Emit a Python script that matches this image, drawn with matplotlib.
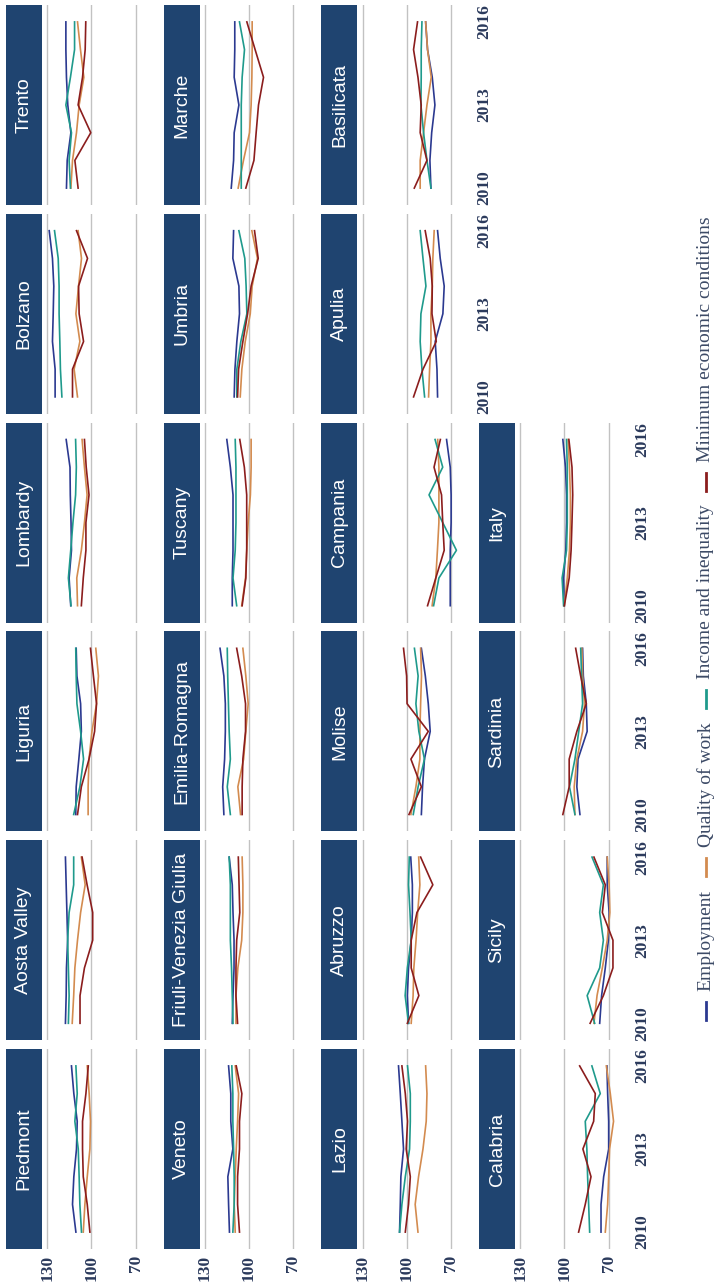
import matplotlib
matplotlib.use("Agg")
import matplotlib.pyplot as plt
from matplotlib.lines import Line2D

# regional well-being indices, 2010-2016
years = [2010, 2011, 2012, 2013, 2014, 2015, 2016]

regions = [
    "Piedmont", "Aosta Valley", "Liguria", "Lombardy", "Bolzano", "Trento",
    "Veneto", "Friuli-Venezia Giulia", "Emilia-Romagna", "Tuscany", "Umbria", "Marche",
    "Lazio", "Abruzzo", "Molise", "Campania", "Apulia", "Basilicata",
    "Calabria", "Sicily", "Sardinia", "Italy",
]

employment = [
    [110.5, 112.8, 111.9, 110.1, 109.6, 111.9, 113.5],
    [117.6, 117.1, 116.9, 116.1, 116.6, 117.1, 117.6],
    [110.6, 110.3, 108.5, 106.8, 107.3, 109.8, 110.3],
    [114.0, 115.1, 113.5, 113.8, 114.3, 114.5, 117.1],
    [124.6, 124.6, 126.4, 125.9, 125.5, 126.4, 128.6],
    [116.9, 116.4, 113.9, 116.0, 116.9, 117.3, 117.3],
    [113.3, 113.9, 114.4, 111.0, 112.4, 112.4, 113.9],
    [111.4, 110.9, 110.2, 110.2, 110.9, 111.4, 113.5],
    [117.1, 117.9, 116.6, 116.1, 116.1, 117.1, 119.7],
    [111.4, 111.4, 110.9, 110.9, 110.9, 112.7, 115.1],
    [110.1, 109.6, 108.3, 106.5, 106.9, 111.0, 110.5],
    [112.1, 110.5, 110.1, 106.9, 110.1, 109.7, 109.7],
    [104.9, 104.4, 104.0, 102.2, 103.3, 104.4, 105.6],
    [98.8, 99.6, 98.8, 97.0, 96.2, 96.2, 97.3],
    [90.1, 89.3, 88.0, 84.1, 85.4, 87.4, 90.1],
    [70.5, 70.5, 70.5, 69.9, 69.9, 70.5, 73.0],
    [79.1, 79.5, 80.7, 75.5, 74.6, 77.3, 79.1],
    [83.6, 84.3, 83.1, 80.9, 82.7, 85.9, 87.2],
    [75.2, 75.2, 73.4, 70.0, 70.0, 70.7, 71.2],
    [76.1, 74.8, 72.3, 70.2, 69.7, 71.0, 71.0],
    [89.5, 91.6, 90.8, 84.6, 85.2, 87.2, 87.7],
    [100.1, 100.6, 99.1, 98.6, 98.6, 99.3, 101.1],
]

quality_of_work = [
    [105.5, 104.4, 102.8, 101.0, 100.6, 101.5, 102.8],
    [113.0, 112.0, 111.2, 109.4, 107.3, 104.2, 106.8],
    [102.2, 102.2, 101.6, 99.6, 96.5, 95.2, 97.0],
    [109.4, 109.9, 106.8, 104.7, 102.9, 104.7, 106.3],
    [109.4, 111.7, 107.8, 110.5, 108.7, 106.7, 109.0],
    [113.9, 112.8, 110.1, 108.3, 105.1, 107.4, 109.4],
    [109.4, 110.1, 109.4, 108.7, 107.8, 107.1, 109.4],
    [108.9, 108.9, 107.6, 105.0, 104.2, 104.2, 104.7],
    [105.8, 107.6, 103.7, 102.2, 100.6, 102.2, 104.2],
    [105.0, 102.4, 101.6, 100.6, 99.1, 98.6, 98.6],
    [106.0, 104.9, 102.6, 99.2, 97.9, 94.3, 98.1],
    [107.4, 103.8, 99.7, 98.6, 98.1, 97.9, 97.9],
    [92.4, 94.3, 92.0, 89.0, 86.8, 86.3, 87.2],
    [97.0, 95.7, 95.2, 93.7, 92.6, 91.1, 91.9],
    [97.2, 93.8, 91.1, 91.1, 90.6, 90.0, 90.6],
    [82.8, 80.3, 79.2, 78.2, 78.2, 78.2, 79.0],
    [85.2, 84.5, 83.6, 83.6, 82.7, 82.3, 81.4],
    [90.9, 90.9, 88.6, 86.3, 83.4, 85.9, 87.2],
    [72.3, 70.7, 70.0, 69.4, 66.7, 68.9, 71.6],
    [80.0, 77.9, 74.3, 71.0, 69.2, 69.7, 71.0],
    [92.9, 93.4, 91.6, 87.7, 86.4, 87.7, 88.2],
    [100.1, 98.1, 96.6, 96.0, 96.0, 96.6, 97.5],
]

income_inequality = [
    [106.7, 107.8, 108.3, 108.9, 111.2, 109.6, 110.5],
    [115.6, 115.1, 115.6, 116.1, 115.1, 112.0, 112.0],
    [112.0, 107.8, 105.3, 107.3, 109.8, 110.3, 110.6],
    [113.8, 115.6, 114.0, 112.5, 110.7, 110.2, 110.7],
    [120.0, 121.0, 121.4, 121.9, 121.9, 122.5, 125.0],
    [114.2, 115.1, 113.5, 117.3, 114.2, 111.4, 111.4],
    [111.0, 110.1, 110.1, 110.5, 111.0, 111.0, 111.7],
    [110.9, 111.4, 111.9, 112.7, 112.7, 112.7, 113.5],
    [112.7, 114.8, 112.7, 113.5, 114.0, 114.5, 114.8],
    [108.4, 110.9, 109.4, 108.9, 108.9, 108.9, 109.4],
    [108.3, 108.3, 105.6, 101.5, 102.0, 102.9, 106.9],
    [105.3, 105.3, 105.3, 105.3, 104.7, 103.1, 106.5],
    [104.9, 103.3, 101.0, 98.1, 97.6, 97.6, 99.5],
    [98.8, 101.1, 99.6, 97.0, 97.8, 98.8, 98.3],
    [95.6, 92.3, 88.0, 91.8, 93.8, 92.3, 94.8],
    [81.8, 78.2, 66.3, 75.6, 84.9, 75.6, 80.8],
    [87.9, 89.7, 90.9, 90.4, 87.0, 89.0, 90.9],
    [83.6, 86.3, 88.6, 90.4, 90.2, 90.2, 89.7],
    [82.9, 83.6, 84.3, 84.8, 85.9, 75.7, 81.4],
    [79.5, 84.6, 76.1, 73.6, 76.1, 73.6, 81.3],
    [92.9, 96.6, 92.9, 90.3, 87.7, 88.4, 89.0],
    [100.6, 101.6, 98.6, 98.1, 98.1, 98.1, 98.6],
]

minimum_conditions = [
    [101.0, 102.8, 105.5, 106.0, 106.0, 103.7, 102.1],
    [107.7, 107.7, 104.7, 99.1, 99.1, 102.9, 106.3],
    [109.4, 106.8, 101.6, 97.8, 96.5, 98.6, 100.6],
    [106.8, 105.5, 103.7, 103.7, 101.6, 103.5, 104.7],
    [112.8, 112.8, 105.3, 108.3, 108.7, 102.6, 110.1],
    [109.0, 111.2, 100.4, 109.0, 106.0, 104.2, 103.8],
    [106.5, 107.8, 107.8, 106.5, 106.5, 104.9, 108.7],
    [107.8, 108.9, 108.9, 108.4, 106.3, 106.8, 107.3],
    [104.7, 104.7, 104.2, 102.4, 102.4, 105.0, 108.4],
    [104.7, 102.2, 101.6, 101.6, 101.6, 103.2, 106.3],
    [107.8, 107.1, 104.2, 101.0, 98.6, 93.8, 96.3],
    [102.2, 96.7, 95.2, 93.6, 90.2, 95.9, 101.5],
    [101.0, 98.8, 97.6, 100.4, 99.5, 101.0, 103.3],
    [99.6, 91.8, 97.0, 97.0, 93.1, 82.3, 90.6],
    [98.5, 90.1, 97.2, 85.4, 99.8, 100.1, 102.2],
    [85.9, 80.3, 74.6, 75.6, 76.4, 81.5, 77.2],
    [95.4, 89.0, 80.0, 82.9, 82.7, 84.1, 87.5],
    [94.9, 86.3, 90.9, 90.2, 92.4, 95.4, 92.7],
    [90.4, 85.9, 82.0, 87.5, 80.2, 79.1, 89.7],
    [82.6, 73.6, 67.1, 67.1, 74.3, 72.3, 80.0],
    [101.1, 96.8, 96.8, 91.6, 85.2, 89.0, 92.4],
    [100.1, 96.8, 95.5, 94.9, 94.4, 94.9, 97.0],
]

series_names = ["Employment", "Quality of work", "Income and inequality",
                "Minimum economic conditions"]
series_data = [employment, quality_of_work, income_inequality, minimum_conditions]
series_colors = ["#2b3990", "#d38b4f", "#1f9a8c", "#8b1d1d"]

value_ticks = [130, 100, 70]
year_ticks = [2010, 2013, 2016]

STRIP = "#1f4470"
GRID = "#c2c2c2"
TICK = "#2b3a5c"
W, H = 715, 1286

fig = plt.figure(figsize=(W / 100, H / 100), dpi=100)
fig.patch.set_facecolor("white")


def fbox(x, y, w, h):
    # pixel box (top-left origin) -> figure fraction
    return [x / W, 1 - (y + h) / H, w / W, h / H]


for i, region in enumerate(regions):
    orow, ocol = divmod(i, 6)
    sx = 6 + orow * 157.7
    top = 5 + (5 - ocol) * 208.8

    sax = fig.add_axes(fbox(sx, top, 36, 200))
    sax.set_facecolor(STRIP)
    sax.set_xticks([])
    sax.set_yticks([])
    for s in sax.spines.values():
        s.set_visible(False)
    sax.text(0.5, 0.5, region, rotation=90, ha="center", va="center",
             color="white", fontsize=14, family="Liberation Sans",
             transform=sax.transAxes)

    ax = fig.add_axes(fbox(sx + 36, top, 112, 200))
    for data, color in zip(series_data, series_colors):
        ax.plot(data[i], years, color=color, lw=1.2)
    ax.set_xlim(133.5, 57.5)
    ax.set_ylim(2009.39, 2016.61)
    ax.set_xticks(value_ticks)
    ax.grid(axis="x", color=GRID, lw=1.0)
    ax.set_axisbelow(True)
    for s in ax.spines.values():
        s.set_visible(False)
    ax.tick_params(length=0)

    if ocol == 0:
        ax.set_xticklabels([str(v) for v in value_ticks], rotation=90,
                           fontsize=12.5, fontweight="bold",
                           family="Liberation Serif", color=TICK)
        ax.tick_params(axis="x", pad=4)
    else:
        ax.set_xticklabels([])

    if orow == 3 or (orow == 2 and ocol >= 4):
        ax.yaxis.tick_right()
        ax.set_yticks(year_ticks)
        ax.set_yticklabels([str(y) for y in year_ticks], rotation=90,
                           va="center", fontsize=12.5, fontweight="bold",
                           family="Liberation Serif", color=TICK)
        ax.tick_params(axis="y", pad=5)
    else:
        ax.set_yticks([])

# legend, laid out along the right edge
renderer = fig.canvas.get_renderer()
y = 1020.0
lx = 706
for name, color in zip(series_names, series_colors):
    fig.add_artist(Line2D([lx / W, lx / W], [1 - y / H, 1 - (y - 18) / H],
                          color=color, lw=2.0, transform=fig.transFigure))
    y -= 29
    t = fig.text(lx / W, 1 - y / H, name, rotation=90, rotation_mode="anchor",
                 ha="left", va="center", fontsize=14, family="Liberation Serif",
                 color="#3c4a66")
    bb = t.get_window_extent(renderer)
    y -= bb.height + 14

fig.savefig("out.png", dpi=100, facecolor="white")
